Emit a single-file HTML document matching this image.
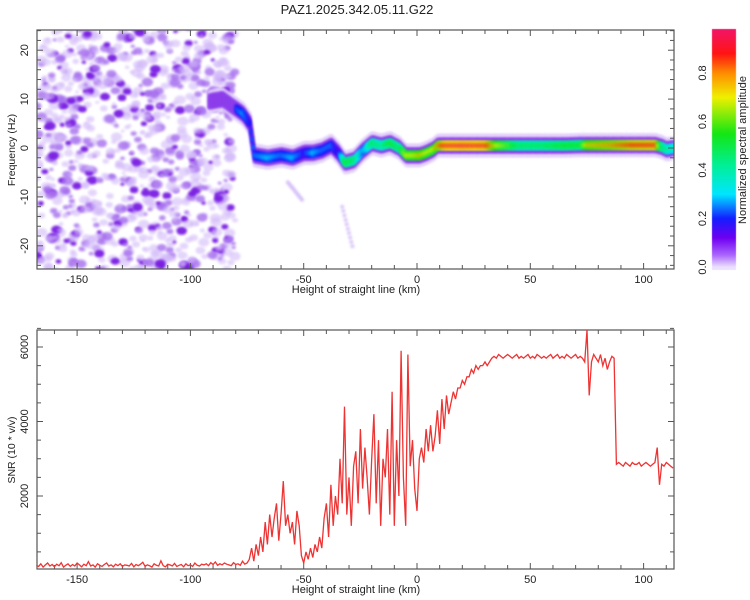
<!DOCTYPE html>
<html><head><meta charset="utf-8"><style>
body{margin:0;background:#fff;width:750px;height:600px;overflow:hidden;font-family:"Liberation Sans",sans-serif;}
svg text{font-family:"Liberation Sans",sans-serif;fill:#222;}
#wrap{position:relative;width:750px;height:600px;}
canvas{position:absolute;left:0;top:0;}
svg{position:absolute;left:0;top:0;}
</style></head><body>
<div id="wrap">
<canvas id="cv" width="750" height="600"></canvas>
<svg id="sv" width="750" height="600"></svg>
</div>
<script>
// ---- data ----
const ridgeKm   = [-92,-86,-80,-77,-74,-72,-66,-60,-55,-50,-46,-42,-38,-35,-32,-28,-24,-20,-16,-12,-8,-5,-2,1,4,7,9,12,20,30,35,45,55,65,72,75,85,95,105,108,110,113];
const ridgeFreq = [9.5,10,8,7,5,-1.5,-2,-1.5,-2,-1,-1,-0.5,0.5,-1,-3,-2.5,-0.5,1,0.5,1,0,-1.5,-1.5,-1.5,-1,-0.3,0.5,0.5,0.5,0.5,0.5,0.5,0.5,0.5,0.6,0.6,0.6,0.6,0.6,0.2,-0.3,0];
const ridgeAmp  = [0.12,0.14,0.22,0.28,0.2,0.25,0.3,0.25,0.3,0.2,0.3,0.25,0.25,0.18,0.55,0.5,0.3,0.5,0.45,0.55,0.5,0.7,0.7,0.75,0.7,0.7,0.8,0.92,0.95,0.92,0.7,0.5,0.5,0.55,0.55,0.75,0.8,0.88,0.9,0.5,0.45,0.4];
const cbTicks = [0.0,0.2,0.4,0.6,0.8];
const xTicks = [-150,-100,-50,0,50,100];
const fTicks = [-20,-10,0,10,20];
const snrTicks = [2000,4000,6000];
// SNR: baseline segment starts at -168 km, 1 km step
const snrBaseStart = -168;
const snrBase = [
140,110,180,90,150,200,120,160,100,170,
130,210,90,140,180,110,160,120,200,150,
100,170,130,240,120,150,90,180,140,110,
160,200,120,150,100,170,130,180,110,150,
140,120,190,100,160,130,170,220,110,150,
130,90,180,140,120,260,130,100,170,150,
120,190,110,140,160,100,180,130,150,110,
200,140,120,170,150,180,130,210,160,230,
140,180,150,200,170,150,130,210,160,
180,140,250,170];
// turbulent segment starts at -75 km
const snrRoughStart = -75;
const snrRough = [
200,300,600,250,700,400,900,500,1300,700,
1500,900,1400,1800,800,1500,2400,1200,1500,1000,
1300,700,1600,1200,400,200,500,300,600,350,
700,500,900,600,1400,1800,900,2300,1200,2000,
1500,3000,1800,4400,1500,2500,1200,2800,3200,1800,
3800,2200,3300,2500,1500,3000,4200,1800,3500,1200,
3000,2500,3800,1500,4800,1200,3500,2000,5900,2500,
1200,5800,2800,3500,2200];
// plateau segment starts at 0 km
const snrFlatStart = 0;
const snrFlat = [
1600,3000,3300,2900,3800,3200,3900,3200,3600,4300,
3400,4600,3800,4700,4200,4500,4800,4600,4900,4900,
5100,5000,5200,5200,5400,5300,5500,5400,5500,5500,
5600,5500,5600,5700,5750,5700,5800,5750,5700,5750,
5800,5750,5700,5750,5800,5700,5750,5700,5750,5800,
5700,5750,5700,5800,5750,5700,5750,5700,5750,5800,
5700,5750,5800,5700,5750,5700,5800,5750,5700,5750,
5800,5700,5750,5700,5600,6500,4700,5600,5800,5700,
5600,5800,5500,5700,5400,5600,5750,5700,
2850,2900,2850,2800,2900,2850,2800,2900,2850,2850,
2900,2800,2850,2900,2850,2800,2850,2900,3300,2300,
2850,2800,2900,2850,2800,2750];
// ---- scales ----
const X = km => 417 + (km) * 2.266;
const FY = f => 148 - f * 4.89;
const SY = v => 570.5 - v * 0.03725;
const cmapStops = [[0,[236,224,255]],[0.05,[170,100,255]],[0.12,[110,0,240]],[0.2,[20,30,255]],[0.3,[0,230,255]],[0.42,[0,240,150]],[0.55,[20,230,20]],[0.7,[240,240,0]],[0.8,[255,140,0]],[0.88,[255,20,20]],[1,[240,20,120]]];
function cmap(a){a=Math.max(0,Math.min(1,a));for(let i=1;i<cmapStops.length;i++){const[s1,c1]=cmapStops[i-1],[s2,c2]=cmapStops[i];if(a<=s2){const t=(a-s1)/(s2-s1);return 'rgb('+c1.map((c,j)=>Math.round(c+(c2[j]-c)*t)).join(',')+')';}}return 'rgb(240,20,120)';}
function interp(xs,ys,x){if(x<=xs[0])return ys[0];for(let i=1;i<xs.length;i++)if(x<=xs[i]){const t=(x-xs[i-1])/(xs[i]-xs[i-1]);return ys[i-1]+(ys[i]-ys[i-1])*t;}return ys[ys.length-1];}

// ---- spectrogram canvas ----
const cv=document.getElementById('cv'),ctx=cv.getContext('2d');
ctx.save();ctx.beginPath();ctx.rect(37,30,637,239);ctx.clip();
let seed=12345;const rnd=()=>{seed=(seed*1103515245+12345)%2147483648;return seed/2147483648;};
ctx.filter='blur(1px)';
for(let i=0;i<1000;i++){const km=-168+rnd()*88,f=-25+rnd()*50,r=1.5+rnd()*3,lv=rnd();
 ctx.fillStyle=lv<0.6?'rgba(210,185,248,0.6)':lv<0.87?'rgba(165,110,238,0.8)':'rgba(120,30,225,0.95)';
 ctx.beginPath();ctx.ellipse(X(km),FY(f),r*1.3,r,0,0,7);ctx.fill();}
for(let k=0;k<10;k++){ctx.fillStyle='rgba(200,170,245,0.7)';ctx.beginPath();ctx.ellipse(X(-57+k*0.7),FY(-7-k*0.4),2,2,0,0,7);ctx.fill();ctx.beginPath();ctx.ellipse(X(-33+k*0.5),FY(-12-k*0.9),2,2,0,0,7);ctx.fill();}
const layers=[[4.2,'rgba(225,205,250,0.9)'],[2.6,'rgba(140,60,235,1)']];
for(const[w,c]of layers){ctx.fillStyle=c;for(let km=ridgeKm[0];km<=113;km+=0.5){const f=interp(ridgeKm,ridgeFreq,km);ctx.fillRect(X(km)-1,FY(f+w*0.5)-1,3,w*4.89+2);}}
ctx.filter='blur(1px)';
for(let km=-80;km<=113;km+=0.5){const f=interp(ridgeKm,ridgeFreq,km),a=interp(ridgeKm,ridgeAmp,km);
 ctx.fillStyle=cmap(a*0.75);ctx.fillRect(X(km)-1,FY(f+0.9),3,1.8*4.89);
 ctx.fillStyle=cmap(a);ctx.fillRect(X(km)-1,FY(f+0.45),3,0.9*4.89);}
ctx.restore();ctx.filter='none';
const g=ctx.createLinearGradient(0,267,0,24.5);cmapStops.forEach(([s,c])=>g.addColorStop(s,'rgb('+c.join(',')+')'));
ctx.fillStyle=g;ctx.fillRect(712,29,24,241);

// ---- svg ----
const NS='http://www.w3.org/2000/svg',sv=document.getElementById('sv');
function el(t,a,txt){const e=document.createElementNS(NS,t);for(const k in a)e.setAttribute(k,a[k]);if(txt!==undefined)e.textContent=txt;sv.appendChild(e);return e;}
let e=el('text',{x:357,y:14,'text-anchor':'middle','font-size':'13'},'PAZ1.2025.342.05.11.G22');


function frame(y0,y1,name){const r=el('rect',{x:37,y:y0,width:637,height:y1-y0,fill:'none',stroke:'#555','stroke-width':1.2});
 
 
 for(let km=-160;km<=110;km+=10){const big=km%50===0,L=big?6:4;el('line',{x1:X(km),x2:X(km),y1:y0,y2:y0+L,stroke:'#555'});el('line',{x1:X(km),x2:X(km),y1:y1,y2:y1-L,stroke:'#555'});}
 xTicks.forEach(v=>{const t=el('text',{x:X(v),y:y1+14,'text-anchor':'middle','font-size':'11'},v);
  
  });
 const xt=el('text',{x:356,y:y1+24,'text-anchor':'middle','font-size':'11'},'Height of straight line (km)');
 
 }
frame(30,269,'spectrogram-frame');
for(let f=-24;f<=24;f+=2){const big=f%10===0,L=big?6:4;el('line',{x1:37,x2:37+L,y1:FY(f),y2:FY(f),stroke:'#555'});el('line',{x1:674,x2:674-L,y1:FY(f),y2:FY(f),stroke:'#555'});}
fTicks.forEach(v=>{const t=el('text',{x:0,y:0,transform:`translate(28,${FY(v)}) rotate(-90)`,'text-anchor':'middle','font-size':'11'},v);
 
 });
e=el('text',{x:0,y:0,transform:'translate(15,150) rotate(-90)','text-anchor':'middle','font-size':'10.5'},'Frequency (Hz)');


cbTicks.forEach(v=>{const y=267-v*242.5;const t=el('text',{x:0,y:0,transform:`translate(706,${y}) rotate(-90)`,'text-anchor':'middle','font-size':'11'},v.toFixed(1));
 
 });
e=el('text',{x:0,y:0,transform:'translate(746,150) rotate(-90)','text-anchor':'middle','font-size':'11'},'Normalized spectral amplitude');



frame(330,569,'snr-frame');
for(let v=500;v<=6500;v+=500){const big=v%2000===0,L=big?6:4;el('line',{x1:37,x2:37+L,y1:SY(v),y2:SY(v),stroke:'#555'});el('line',{x1:674,x2:674-L,y1:SY(v),y2:SY(v),stroke:'#555'});}
snrTicks.forEach(v=>{const t=el('text',{x:0,y:0,transform:`translate(28,${SY(v)}) rotate(-90)`,'text-anchor':'middle','font-size':'11'},v);
 
 });
e=el('text',{x:0,y:0,transform:'translate(15,450) rotate(-90)','text-anchor':'middle','font-size':'10.5'},'SNR (10 * v/v)');


const segs=[[snrBaseStart,snrBase],[snrRoughStart,snrRough],[snrFlatStart,snrFlat]];
const ptsArr=[];segs.forEach(([s,arr])=>arr.forEach((v,i)=>{const km=s+i;if(km<=113.4)ptsArr.push(X(km).toFixed(1)+','+Math.max(330,Math.min(569,SY(v))).toFixed(1));}));
e=el('polyline',{points:ptsArr.join(' '),fill:'none',stroke:'#ee3333','stroke-width':1.3});


</script>
</body></html>
